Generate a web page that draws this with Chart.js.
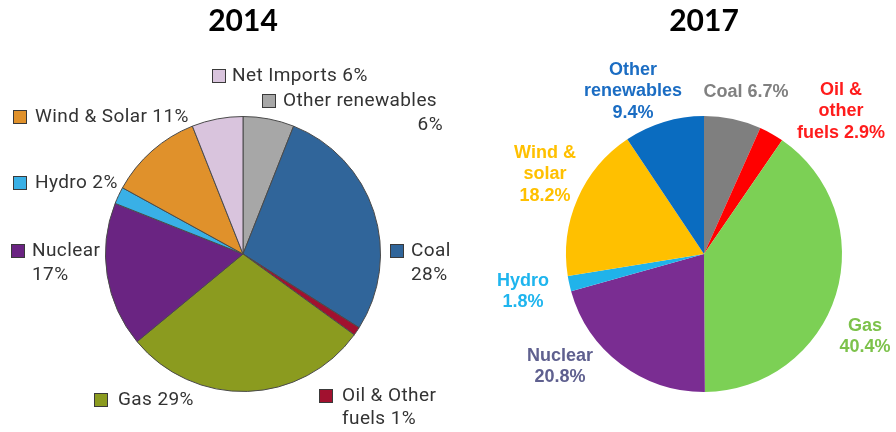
<!DOCTYPE html>
<html>
<head>
<meta charset="utf-8">
<script src="https://cdn.jsdelivr.net/npm/chart.js@4.4.1/dist/chart.umd.min.js"></script>
<style>
  html, body { margin: 0; padding: 0; background: #fff; }
  #wrap { position: relative; width: 896px; height: 432px; }
  #wrap canvas { position: absolute; left: 0; top: 0; }
</style>
</head>
<body>
<div id="wrap">
  <canvas id="pie2014" width="896" height="432"></canvas>
  <canvas id="pie2017" width="896" height="432"></canvas>
</div>
<script>
// 2014 generation mix (clockwise from 12 o'clock)
var sources2014 = ['Other renewables', 'Coal', 'Oil & Other fuels', 'Gas', 'Nuclear', 'Hydro', 'Wind & Solar', 'Net Imports'];
var share2014 = [6, 28, 1, 29, 17, 2, 11, 6];
var colors2014 = ['#a7a7a7', '#30659a', '#a1112f', '#8b9b1f', '#6a2482', '#39b0e6', '#e0912b', '#d9c4dd'];

// 2017 generation mix (clockwise from 12 o'clock)
var sources2017 = ['Coal', 'Oil & other fuels', 'Gas', 'Nuclear', 'Hydro', 'Wind & solar', 'Other renewables'];
var share2017 = [6.7, 2.9, 40.4, 20.8, 1.8, 18.2, 9.4];
var colors2017 = ['#7f7f7f', '#ff0000', '#7cd055', '#7a2d92', '#20b3ea', '#ffc000', '#0a6cc0'];

// label placement, '#' gets the slice value
var notes2014 = [
  { i: 7, box: [212, 69], lines: [['Net Imports #', 232, 76, 'left']] },
  { i: 0, box: [262, 94], lines: [['Other renewables', 283, 101, 'left'], ['#', 443, 125, 'right']] },
  { i: 6, box: [13, 110], lines: [['Wind & Solar #', 35, 117, 'left']] },
  { i: 5, box: [13, 176], lines: [['Hydro #', 35, 183, 'left']] },
  { i: 4, box: [11, 244], lines: [['Nuclear', 32, 251, 'left'], ['#', 32, 275, 'left']] },
  { i: 1, box: [390, 244], lines: [['Coal', 411, 251, 'left'], ['#', 411, 275, 'left']] },
  { i: 3, box: [94, 393], lines: [['Gas #', 118, 400, 'left']] },
  { i: 2, box: [319, 389], lines: [['Oil & Other', 342, 396, 'left'], ['fuels #', 342, 419, 'left']] }
];

var notes2017 = [
  { i: 6, color: '#1b6dc3', x: 633, y: 70, lines: ['Other', 'renewables', '#'] },
  { i: 0, color: '#808080', x: 746, y: 92, lines: ['Coal #'] },
  { i: 1, color: '#ff1c1c', x: 841, y: 90, lines: ['Oil &', 'other', 'fuels #'] },
  { i: 5, color: '#ffc000', x: 545, y: 153, lines: ['Wind &', 'solar', '#'] },
  { i: 4, color: '#1fb5ee', x: 523, y: 281, lines: ['Hydro', '#'] },
  { i: 3, color: '#5f608f', x: 560, y: 356, lines: ['Nuclear', '#'] },
  { i: 2, color: '#7dc24b', x: 865, y: 326, lines: ['Gas', '#'] }
];

function pctText(s, v) {
  return s.replace('#', v + '%');
}

// draws the text labels next to the pies
var sliceNotes = {
  id: 'sliceNotes',
  afterDraw: function (chart, args, opts) {
    var ctx = chart.ctx;
    var ds = chart.data.datasets[0];
    ctx.save();
    ctx.textBaseline = 'middle';
    if (opts.style === 'boxed') {
      ctx.font = '19px Roboto';
      ctx.letterSpacing = '0.4px';
      opts.notes.forEach(function (n) {
        ctx.fillStyle = ds.backgroundColor[n.i];
        ctx.fillRect(n.box[0], n.box[1], 14, 14);
        ctx.strokeStyle = '#3a3a3a';
        ctx.lineWidth = 1;
        ctx.strokeRect(n.box[0] + 0.5, n.box[1] + 0.5, 13, 13);
        ctx.fillStyle = '#333';
        n.lines.forEach(function (l) {
          ctx.textAlign = l[3];
          ctx.fillText(pctText(l[0], ds.data[n.i]), l[1], l[2]);
        });
      });
    } else {
      ctx.font = 'bold 18px "Liberation Sans", Arial, sans-serif';
      ctx.textAlign = 'center';
      opts.notes.forEach(function (n) {
        ctx.fillStyle = n.color;
        n.lines.forEach(function (l, k) {
          ctx.fillText(pctText(l, ds.data[n.i]), n.x, n.y + k * 21.5);
        });
      });
    }
    ctx.restore();
  }
};

function pieChart(id, title, labels, values, colors, border, pad, notes, style) {
  return new Chart(document.getElementById(id), {
    type: 'pie',
    data: {
      labels: labels,
      datasets: [{
        data: values,
        backgroundColor: colors,
        borderColor: border,
        borderWidth: border ? 1 : 0
      }]
    },
    options: {
      responsive: false,
      animation: false,
      events: [],
      layout: { padding: pad },
      plugins: {
        legend: { display: false },
        tooltip: { enabled: false },
        title: {
          display: true,
          text: title,
          color: '#000',
          font: { family: 'Lato', size: 30, weight: 'bold' },
          padding: { top: 3, bottom: 77 }
        },
        sliceNotes: { notes: notes, style: style }
      }
    },
    plugins: [sliceNotes]
  });
}

pieChart('pie2014', '2014', sources2014, share2014, colors2014, '#4a4a4a',
  { left: 105, right: 515, top: 0, bottom: 40 }, notes2014, 'boxed');
pieChart('pie2017', '2017', sources2017, share2017, colors2017, null,
  { left: 566, right: 54, top: 0, bottom: 40 }, notes2017, 'plain');
</script>
</body>
</html>
